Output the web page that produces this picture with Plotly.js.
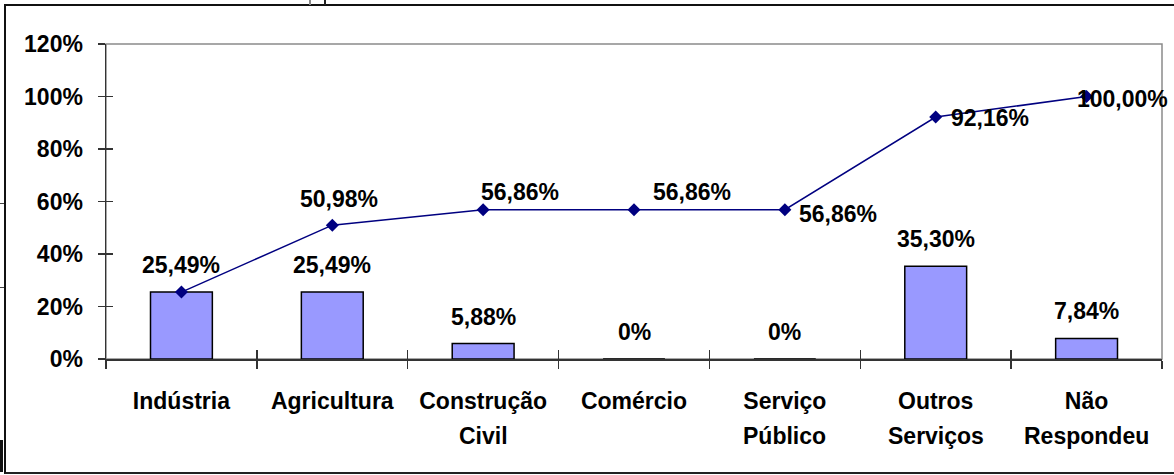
<!DOCTYPE html>
<html>
<head>
<meta charset="utf-8">
<script src="https://cdn.plot.ly/plotly-3.0.1.min.js"></script>
<style>
  body { margin: 0; background: #fff; }
  #wrap { position: relative; width: 1174px; height: 475px; overflow: hidden; }
  #graph { position: absolute; left: 0; top: 0; width: 1174px; height: 475px; }
  .frame { position: absolute; left: 4px; top: 4px; width: 1200px; height: 466px;
           border-left: 2px solid #111; border-top: 2px solid #111; border-bottom: 2px solid #222;
           pointer-events: none; }
  .bit { position: absolute; pointer-events: none; }
</style>
</head>
<body>
<div id="wrap">
  <div id="graph"></div>
  <div class="frame"></div>
  <div class="bit" style="left:309px;top:0;width:2px;height:5px;background:#888"></div>
  <div class="bit" style="left:324px;top:0;width:2px;height:5px;background:#222"></div>
  <div class="bit" style="left:0;top:203px;width:4px;height:1px;background:#444"></div>
  <div class="bit" style="left:0;top:287px;width:4px;height:1px;background:#444"></div>
  <div class="bit" style="left:0;top:440px;width:3px;height:32px;background:#111"></div>
</div>
<script>
var categories = ["Indústria", "Agricultura", "Construção Civil", "Comércio", "Serviço Público", "Outros Serviços", "Não Respondeu"];
var line1 = ["Indústria", "Agricultura", "Construção", "Comércio", "Serviço", "Outros", "Não"];
var line2 = ["", "", "Civil", "", "Público", "Serviços", "Respondeu"];
var share = [0.2549, 0.2549, 0.0588, 0, 0, 0.3530, 0.0784]; /* bars */
var shareText = ["25,49%", "25,49%", "5,88%", "0%", "0%", "35,30%", "7,84%"];
var cumulative = [0.2549, 0.5098, 0.5686, 0.5686, 0.5686, 0.9216, 1.0];
var cumulativeText = ["25,49%", "50,98%", "56,86%", "56,86%", "56,86%", "92,16%", "100,00%"];

var labelFont = { family: "Liberation Sans, Arial, sans-serif", size: 23, color: "#000", weight: "bold" };

/* where each cumulative label sits, relative to its marker (px) */
var cumShift = [[0, 28], [7, 26], [37, 18], [58, 18], [53, -4], [54, -1], [36, -2]];

var idx = categories.map(function (c, k) { return k; });
var bounds = [-0.5].concat(idx.map(function (k) { return k + 0.5; }));

var bars = {
    x: categories,
    y: share,
    type: "bar",
    marker: { color: "#9999FF", line: { color: "#000", width: 1.5 } },
    hoverinfo: "skip"
};
var cumLine = {
    x: categories,
    y: cumulative,
    type: "scatter",
    mode: "lines+markers",
    line: { color: "#000080", width: 1.5 },
    marker: { symbol: "diamond", size: 10, color: "#000080" },
    hoverinfo: "skip"
};
/* invisible traces so the overlay axes (inner tick halves) get drawn */
var tickHolderX = { x: bounds, y: bounds.map(function () { return 0.5; }), xaxis: "x3", yaxis: "y", type: "scatter", mode: "markers", marker: { opacity: 0 }, hoverinfo: "skip" };
var tickHolderY = { x: categories, y: share, xaxis: "x", yaxis: "y2", type: "scatter", mode: "markers", marker: { opacity: 0 }, hoverinfo: "skip" };

var annotations = [];
var i;
for (i = 0; i < categories.length; i += 1) {
    annotations.push({
        x: categories[i], y: share[i], xref: "x", yref: "y",
        text: shareText[i], showarrow: false,
        xanchor: "center", yanchor: "middle", yshift: 27,
        font: labelFont
    });
}
for (i = 1; i < categories.length; i += 1) {
    annotations.push({
        x: categories[i], y: cumulative[i], xref: "x", yref: "y",
        text: cumulativeText[i], showarrow: false,
        xanchor: "center", yanchor: "middle",
        xshift: cumShift[i][0], yshift: cumShift[i][1],
        font: labelFont
    });
}
for (i = 0; i < categories.length; i += 1) {
    if (line2[i] === "") continue;
    annotations.push({
        x: categories[i], y: 0, xref: "x", yref: "paper",
        text: line2[i], showarrow: false,
        xanchor: "center", yanchor: "middle", yshift: -77,
        font: labelFont
    });
}

var layout = {
    width: 1174,
    height: 475,
    margin: { l: 106, r: 12, t: 44, b: 116 },
    paper_bgcolor: "rgba(0,0,0,0)",
    plot_bgcolor: "#fff",
    showlegend: false,
    bargap: 0.59,
    xaxis: {
        type: "category",
        range: [-0.5, 6.5],
        tickvals: categories,
        ticktext: line1,
        tickson: "boundaries",
        ticks: "outside",
        ticklen: 8,
        tickwidth: 1.5,
        tickcolor: "#333",
        showline: true,
        linecolor: "#333",
        linewidth: 1.5,
        showgrid: false,
        zeroline: false,
        ticklabelstandoff: 21,
        tickfont: labelFont
    },
    xaxis3: {
        type: "linear",
        overlaying: "x",
        anchor: "y",
        side: "bottom",
        range: [-0.5, 6.5],
        tickmode: "array",
        tickvals: bounds,
        ticks: "inside",
        ticklen: 9,
        tickwidth: 1.5,
        tickcolor: "#333",
        showticklabels: false,
        showline: false,
        showgrid: false,
        zeroline: false
    },
    yaxis: {
        range: [0, 1.2],
        dtick: 0.2,
        tickformat: ".0%",
        ticks: "outside",
        ticklen: 7,
        tickwidth: 1.5,
        tickcolor: "#333",
        showline: true,
        linecolor: "#333",
        linewidth: 1.5,
        showgrid: false,
        zeroline: false,
        ticklabelstandoff: 10,
        tickfont: labelFont
    },
    yaxis2: {
        overlaying: "y",
        anchor: "x",
        side: "left",
        range: [0, 1.2],
        dtick: 0.2,
        ticks: "inside",
        ticklen: 7,
        tickwidth: 1.5,
        tickcolor: "#333",
        showticklabels: false,
        showline: false,
        showgrid: false,
        zeroline: false
    },
    shapes: [{
        type: "rect", xref: "paper", yref: "paper",
        x0: 0, x1: 1, y0: 0, y1: 1,
        line: { color: "#8a8a8a", width: 1.5 },
        layer: "below"
    }],
    annotations: annotations
};

Plotly.newPlot("graph", [bars, tickHolderX, tickHolderY, cumLine], layout, { displayModeBar: false, staticPlot: true });
</script>
</body>
</html>
